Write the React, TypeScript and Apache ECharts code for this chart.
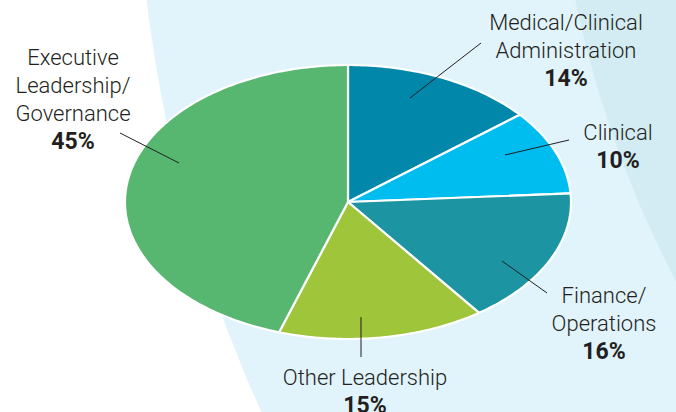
import React, { useEffect, useRef } from "react";
import * as echarts from "echarts";

const categories = [
  "Medical/Clinical\nAdministration",
  "Clinical",
  "Finance/\nOperations",
  "Other Leadership",
  "Executive\nLeadership/\nGovernance",
];
const values = [14, 10, 16, 15, 45];
const sliceColors = ["#0087aa", "#00bdf0", "#1c94a1", "#9fc53a", "#57b770"];

// layout (annotation positions)
const PIE = { cx: 348, cy: 202, rx: 223, ry: 137 };
const labelAnchors = [
  [566, 22],
  [618, 132],
  [604, 295],
  [365, 377],
  [73, 57],
];
const leaderLines = [
  [[410, 98], [481, 43]],
  [[505, 155], [569, 140]],
  [[502, 261], [547, 293]],
  [[361, 317], [361, 357]],
  [[179, 163], [120, 133]],
];

const FONT = "Roboto, 'Open Sans', sans-serif";
const LH = 28;

export default function App() {
  const ref = useRef<HTMLDivElement>(null);
  useEffect(() => {
    if (!ref.current) return;
    const chart = echarts.init(ref.current, undefined, { renderer: "svg" });
    const total = values.reduce((a, b) => a + b, 0);
    const option: any = {
      animation: false,
      backgroundColor: "#ffffff",
      graphic: [
        {
          type: "circle",
          silent: true,
          z: 0,
          shape: { cx: 1528, cy: -163, r: 1391 },
          style: { fill: "#e1f3fb" },
        },
        {
          type: "circle",
          silent: true,
          z: 0,
          shape: { cx: 1645, cy: -224, r: 1093 },
          style: { fill: "#d3ecf3" },
        },
      ],
      series: [
        {
          type: "custom",
          coordinateSystem: "none",
          data: values.map((v, i) => ({ value: [v], name: categories[i] })),
          renderItem: (params: any, api: any) => {
            const i = params.dataIndex;
            const v = api.value(0);
            let cum = 0;
            for (let k = 0; k < i; k++) cum += values[k];
            const a0 = -Math.PI / 2 + (2 * Math.PI * cum) / total;
            const a1 = a0 + (2 * Math.PI * v) / total;
            const pts: number[][] = [[PIE.cx, PIE.cy]];
            const n = Math.max(8, Math.ceil((a1 - a0) * 60));
            for (let s = 0; s <= n; s++) {
              const a = a0 + ((a1 - a0) * s) / n;
              pts.push([PIE.cx + PIE.rx * Math.cos(a), PIE.cy + PIE.ry * Math.sin(a)]);
            }
            const [p0, p1] = leaderLines[i];
            const [lx, ly] = labelAnchors[i];
            const pct = Math.round((v / total) * 100) + "%";
            return {
              type: "group",
              children: [
                {
                  type: "polygon",
                  shape: { points: pts },
                  style: {
                    fill: sliceColors[i],
                    stroke: "#ffffff",
                    lineWidth: 2.2,
                    lineJoin: "round",
                  },
                },
                {
                  type: "line",
                  z2: 5,
                  shape: { x1: p0[0], y1: p0[1], x2: p1[0], y2: p1[1] },
                  style: { stroke: "#231f20", lineWidth: 1 },
                },
                {
                  type: "text",
                  z2: 6,
                  x: lx,
                  y: ly - LH / 2,
                  style: {
                    text: `{n|${categories[i]}}\n{p|${pct}}`,
                    align: "center",
                    verticalAlign: "top",
                    rich: {
                      n: {
                        fontFamily: FONT,
                        fontSize: 22,
                        fontWeight: 300,
                        lineHeight: LH,
                        fill: "#231f20",
                        align: "center",
                      },
                      p: {
                        fontFamily: FONT,
                        fontSize: 23,
                        fontWeight: "bold",
                        lineHeight: LH,
                        fill: "#231f20",
                        align: "center",
                      },
                    },
                  },
                },
              ],
            };
          },
        },
      ],
    };
    chart.setOption(option);
    return () => chart.dispose();
  }, []);
  return (
    <div
      ref={ref}
      style={{ position: "fixed", left: 0, top: 0, width: 676, height: 412 }}
    />
  );
}
